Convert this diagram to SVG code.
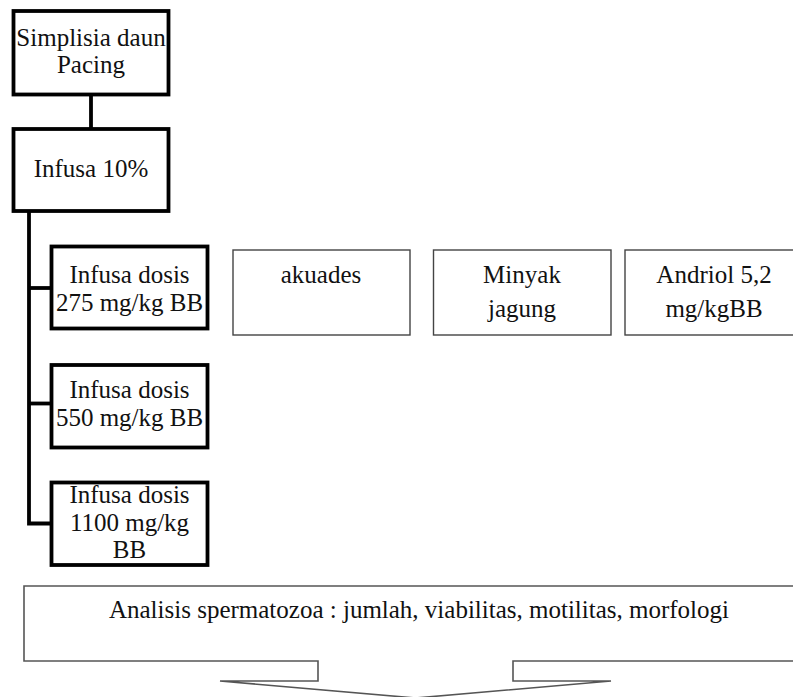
<svg xmlns="http://www.w3.org/2000/svg" width="793" height="697" viewBox="0 0 793 697">
<style>
.thick{fill:#fff;stroke:#000;stroke-width:3.8}
.thin{fill:#fff;stroke:#444;stroke-width:1.4}
.call{fill:#fff;stroke:#555;stroke-width:1.6;stroke-linejoin:miter}
.ln{fill:none;stroke:#000;stroke-width:3.8;stroke-linejoin:miter}
text{font-family:"Liberation Serif","Times New Roman",serif;font-size:25px;fill:#111;text-anchor:middle}
</style>
<rect width="793" height="697" fill="#fff"/>
<g id="connectors">
<line class="ln" x1="91" y1="94" x2="91" y2="129"/>
<path class="ln" d="M29,211 V523.5 H51.5"/>
<line class="ln" x1="29" y1="288" x2="51.5" y2="288"/>
<line class="ln" x1="29" y1="403.5" x2="51.5" y2="403.5"/>
</g>
<g id="simplisia">
<rect class="thick" x="13.5" y="11" width="155" height="83.5"/>
<text x="91" y="46">Simplisia daun</text>
<text x="91" y="73">Pacing</text>
</g>
<g id="infusa10">
<rect class="thick" x="13.5" y="129" width="155" height="82"/>
<text x="91" y="177">Infusa 10%</text>
</g>
<g id="dosis275">
<rect class="thick" x="51.5" y="246.5" width="156" height="82"/>
<text x="129.5" y="283">Infusa dosis</text>
<text x="129.5" y="311">275 mg/kg BB</text>
</g>
<g id="dosis550">
<rect class="thick" x="51.5" y="365" width="156" height="82.5"/>
<text x="129.5" y="398">Infusa dosis</text>
<text x="129.5" y="426">550 mg/kg BB</text>
</g>
<g id="dosis1100">
<rect class="thick" x="51.5" y="482.5" width="156" height="82.5"/>
<text x="129.5" y="503">Infusa dosis</text>
<text x="129.5" y="531">1100 mg/kg</text>
<text x="129.5" y="558">BB</text>
</g>
<g id="akuades">
<rect class="thin" x="233" y="250" width="177" height="85"/>
<text x="321" y="283">akuades</text>
</g>
<g id="minyak">
<rect class="thin" x="433.5" y="250" width="177.5" height="85"/>
<text x="522" y="283">Minyak</text>
<text x="522" y="317">jagung</text>
</g>
<g id="andriol">
<rect class="thin" x="625" y="250" width="178" height="85"/>
<text x="714" y="283">Andriol 5,2</text>
<text x="714" y="317">mg/kgBB</text>
</g>
<g id="analisis">
<path class="call" d="M24,586 H805 V661 H513 V681 H611 L415.5,698 L220,681 H318 V661 H24 Z"/>
<text x="419" y="618">Analisis spermatozoa : jumlah, viabilitas, motilitas, morfologi</text>
</g>
</svg>
